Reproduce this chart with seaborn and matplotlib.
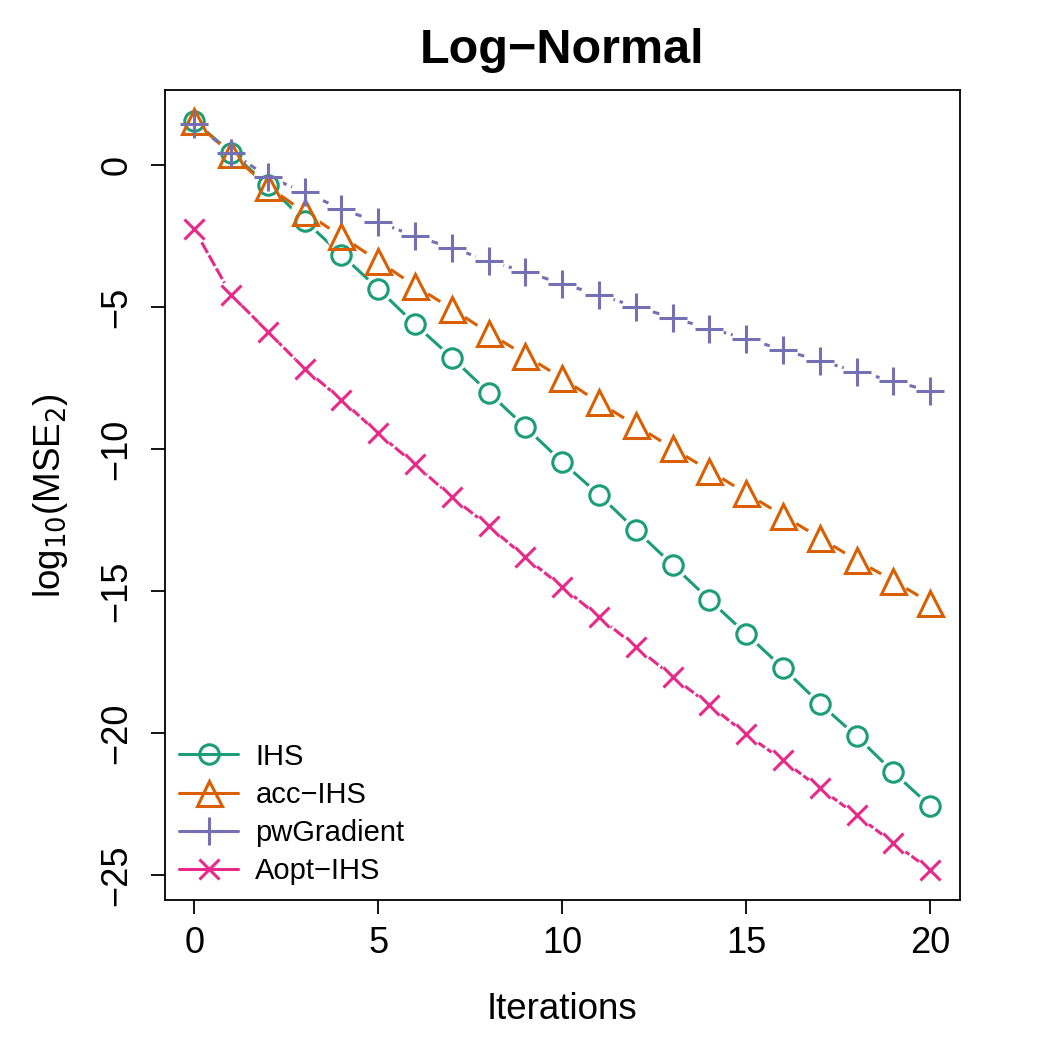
import numpy as np
import pandas as pd
import seaborn as sns
import matplotlib.pyplot as plt
from matplotlib.lines import Line2D

iterations = list(range(21))
ihs = [1.55, 0.45, -0.70, -1.95, -3.15, -4.35, -5.60, -6.77, -8.00, -9.22, -10.45,
       -11.60, -12.84, -14.07, -15.30, -16.50, -17.70, -18.95, -20.10, -21.37, -22.56]
acc_ihs = [1.55, 0.40, -0.75, -1.65, -2.50, -3.37, -4.25, -5.05, -5.90, -6.70, -7.50,
           -8.35, -9.16, -9.96, -10.75, -11.55, -12.33, -13.12, -13.90, -14.63, -15.40]
pw_gradient = [1.47, 0.45, -0.40, -0.95, -1.54, -2.00, -2.50, -2.90, -3.37, -3.75, -4.17,
               -4.56, -4.98, -5.37, -5.75, -6.10, -6.50, -6.88, -7.26, -7.60, -7.95]
aopt_ihs = [-2.25, -4.56, -5.86, -7.16, -8.25, -9.44, -10.53, -11.68, -12.70, -13.80, -14.84,
            -15.90, -16.95, -18.00, -19.00, -20.03, -20.95, -21.93, -22.88, -23.86, -24.80]

methods = ["IHS", "acc\u2212IHS", "pwGradient", "Aopt\u2212IHS"]
series = [ihs, acc_ihs, pw_gradient, aopt_ihs]
colors = ["#1B9E77", "#D95F02", "#7570B3", "#E7298A"]
markers = ["o", "^", "+", "x"]
msizes = [14, 18, 20, 15]
linestyles = ["-", "-", (0, (2.2, 1.6)), (0, (4.0, 0.9))]

sns.set_style("white")
plt.rcParams["font.family"] = ["Liberation Sans", "DejaVu Sans"]
plt.rcParams["text.color"] = "black"
plt.rcParams["axes.labelcolor"] = "black"
plt.rcParams["xtick.color"] = "black"
plt.rcParams["ytick.color"] = "black"

fig = plt.figure(figsize=(10.5, 10.5), dpi=100)
ax = fig.add_axes([0.157, 0.143, 0.757, 0.771])

for m, s, c, ls in zip(methods, series, colors, linestyles):
    d = pd.DataFrame({"it": iterations, "val": s})
    sns.lineplot(data=d, x="it", y="val", color=c, linewidth=2.2, ax=ax, zorder=1)
    ax.lines[-1].set_linestyle(ls)

# white halos so the lines stop short of the points (like R type="b")
for s in series:
    ax.plot(iterations, s, linestyle="none", marker="o", markersize=21,
            markerfacecolor="white", markeredgecolor="none", zorder=2)
for s, c, mk, ms in zip(series, colors, markers, msizes):
    ax.plot(iterations, s, linestyle="none", marker=mk, markersize=ms,
            markerfacecolor="none", markeredgecolor=c, markeredgewidth=2.2, zorder=3)

ax.set_xlim(-0.8, 20.8)
ax.set_ylim(-25.86, 2.64)
ax.set_xticks([0, 5, 10, 15, 20])
ax.set_yticks([-25, -20, -15, -10, -5, 0])
ax.tick_params(axis="both", direction="out", length=10, width=1.3, labelsize=26,
               bottom=True, left=True)
ax.tick_params(axis="x", pad=9)
ax.tick_params(axis="y", pad=12)
for lab in ax.get_yticklabels():
    lab.set_rotation(90)
    lab.set_va("center")
for sp in ax.spines.values():
    sp.set_linewidth(1.3)
    sp.set_color("black")

ax.set_xlabel("Iterations", fontsize=26.5, labelpad=22)
ax.set_ylabel(r"log$_{10}$(MSE$_2$)", fontsize=26.5, labelpad=21)
ax.set_title("Log\u2212Normal", fontsize=35, fontweight="bold", pad=20)

handles = [Line2D([0], [0], color=c, marker=mk, markersize=ms, markerfacecolor="none",
                  markeredgewidth=2.2, linewidth=2.2)
           for c, mk, ms in zip(colors, markers, msizes)]
ax.legend(handles, methods, loc="lower left", frameon=False, fontsize=21,
          handlelength=2.0, handletextpad=0.6, labelspacing=0.35,
          borderaxespad=0.2, borderpad=0.3)

fig.savefig("out.png", dpi=100)
